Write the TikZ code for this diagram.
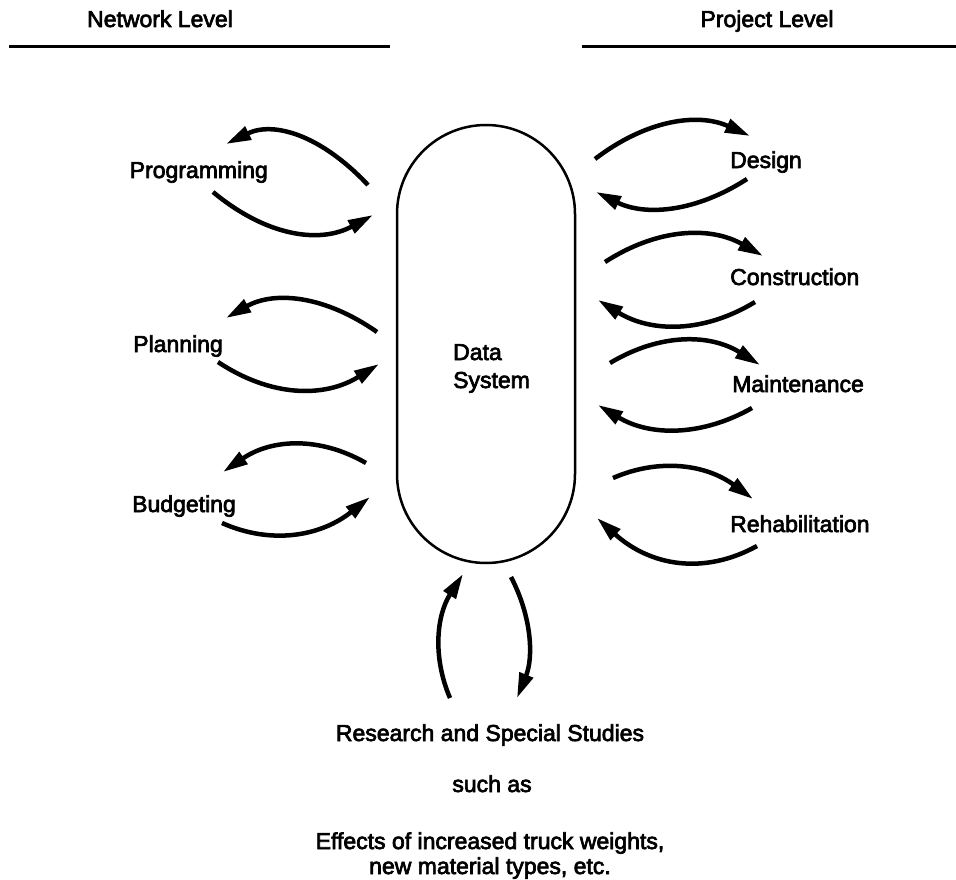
\documentclass[tikz,border=0pt]{standalone}
\usepackage{fontspec}
\setmainfont{Liberation Sans}
\newfontfamily\labfont{Liberation Sans}[FakeBold=3]
\usetikzlibrary{arrows.meta,calc}
\newcommand\myarc[3]{\draw[arr] (#1) .. controls ($(#1)!0.6667!(#3)$) and ($(#2)!0.6667!(#3)$) .. (#2);}
\begin{document}
\begin{tikzpicture}[x=1pt,y=-1pt,
  lab/.style={font=\labfont\fontsize{23}{28}\selectfont, inner sep=0pt},
  arr/.style={line width=4.5pt, -{Triangle[length=25pt,width=14pt]}},
  rule/.style={line width=3pt}]
\fill[white] (0,0) rectangle (956,880);
\useasboundingbox (0,0) rectangle (956,880);

% headings
\node[lab, anchor=base] (net) at (160,27) {Network Level};
\node[lab, anchor=base] (proj) at (767,27) {Project Level};
\coordinate (nl1) at (9,47); \coordinate (nl2) at (390,47);
\coordinate (pl1) at (582,47); \coordinate (pl2) at (956,47);
\draw[rule] (nl1) -- (nl2);
\draw[rule] (pl1) -- (pl2);

% data system
\node[draw, line width=2.5pt, rounded corners=89pt, minimum width=178pt,
      minimum height=438pt, inner sep=0pt] (ds) at (486,344) {};
\node[lab, anchor=base west] (t1) at (453,360) {Data};
\node[lab, anchor=base west] (t2) at (453,388) {System};

% left labels
\node[lab, anchor=base east] (prog) at (268,178) {Programming};
\node[lab, anchor=base east] (plan) at (223,352) {Planning};
\node[lab, anchor=base east] (budg) at (236,512) {Budgeting};

% right labels
\node[lab, anchor=base west] (des) at (730,168) {Design};
\node[lab, anchor=base west] (con) at (730,285) {Construction};
\node[lab, anchor=base west] (mai) at (732,392) {Maintenance};
\node[lab, anchor=base west] (reh) at (730,532) {Rehabilitation};

% bottom text
\node[lab, anchor=base] (res) at (490,741) {Research and Special Studies};
\node[lab, anchor=base] (such) at (492,792) {such as};
\node[lab, anchor=base] (eff1) at (490,849) {Effects of increased truck weights,};
\node[lab, anchor=base] (eff2) at (490,874) {new material types, etc.};

% arc coordinates
\coordinate (pa1) at (368,185); \coordinate (pa2) at (226,144); \coordinate (paq) at (297,109.5);
\coordinate (pb1) at (213,192); \coordinate (pb2) at (373,215); \coordinate (pbq) at (293,258.5);
\coordinate (la1) at (377,332); \coordinate (la2) at (226,318); \coordinate (laq) at (298.5,277);
\coordinate (lb1) at (218,362); \coordinate (lb2) at (379,364); \coordinate (lbq) at (297.5,415);
\coordinate (ba1) at (366,463); \coordinate (ba2) at (223,472); \coordinate (baq) at (295.5,422.5);
\coordinate (bb1) at (222,523); \coordinate (bb2) at (370,497); \coordinate (bbq) at (296,556);
\coordinate (da1) at (595,159); \coordinate (da2) at (750,136); \coordinate (daq) at (671.5,100.5);
\coordinate (db1) at (747,179); \coordinate (db2) at (596,192); \coordinate (dbq) at (670.5,228.5);
\coordinate (ca1) at (605,262); \coordinate (ca2) at (763,256); \coordinate (caq) at (684,211);
\coordinate (cb1) at (755,302); \coordinate (cb2) at (598,300); \coordinate (cbq) at (677.5,349);
\coordinate (ma1) at (610,363); \coordinate (ma2) at (760,365); \coordinate (maq) at (685,318);
\coordinate (mb1) at (752,408); \coordinate (mb2) at (598,405); \coordinate (mbq) at (675,451.5);
\coordinate (ra1) at (613,478); \coordinate (ra2) at (753,499); \coordinate (raq) at (683,447.5);
\coordinate (rb1) at (757,546); \coordinate (rb2) at (597,518); \coordinate (rbq) at (677,590);
\coordinate (sa1) at (450,698); \coordinate (sa2) at (463,574); \coordinate (saq) at (423.5,636);
\coordinate (sb1) at (511,577); \coordinate (sb2) at (517,698); \coordinate (sbq) at (542,636.5);

\myarc{pa1}{pa2}{paq}
\myarc{pb1}{pb2}{pbq}
\myarc{la1}{la2}{laq}
\myarc{lb1}{lb2}{lbq}
\myarc{ba1}{ba2}{baq}
\myarc{bb1}{bb2}{bbq}
\myarc{da1}{da2}{daq}
\myarc{db1}{db2}{dbq}
\myarc{ca1}{ca2}{caq}
\myarc{cb1}{cb2}{cbq}
\myarc{ma1}{ma2}{maq}
\myarc{mb1}{mb2}{mbq}
\myarc{ra1}{ra2}{raq}
\myarc{rb1}{rb2}{rbq}
\myarc{sa1}{sa2}{saq}
\myarc{sb1}{sb2}{sbq}
\end{tikzpicture}
\end{document}
